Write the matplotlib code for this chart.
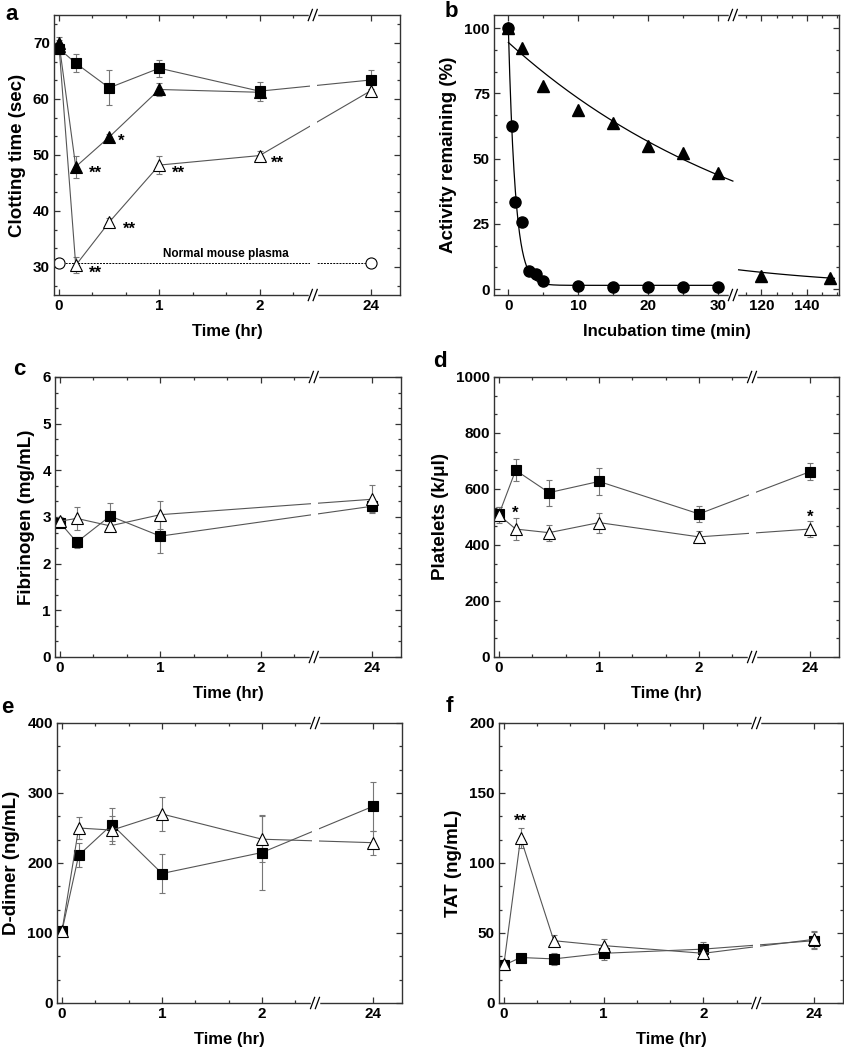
import numpy as np
import matplotlib
matplotlib.use("Agg")
import matplotlib.pyplot as plt
from matplotlib.ticker import FixedLocator

plt.rcParams["font.family"] = ["Liberation Sans", "DejaVu Sans"]
plt.rcParams["font.weight"] = "bold"
plt.rcParams["axes.labelweight"] = "bold"

# ---- data -------------------------------------------------------------
hours = [0, 1 / 6, 0.5, 1, 2, 24]

# a: clotting time (sec)
a_sq = [69.0, 66.4, 62.0, 65.5, 61.4, 63.4]
a_sq_err = [1.0, 1.6, 3.1, 1.5, 1.7, 1.7]
a_ftri_t = [0, 1 / 6, 0.5, 1, 2]
a_ftri = [70.0, 47.9, 53.2, 61.7, 61.2]
a_ftri_err = [1.0, 2.0, 0.6, 1.2, 1.0]
a_otri = [69.5, 30.3, 38.0, 48.2, 49.9, 61.5]
a_otri_err = [1.0, 1.4, 0.8, 1.6, 0.9, 1.0]
a_norm_t = [0, 24]
a_norm = [30.7, 30.7]
a_stars = [("**", 0.30, 46.7), ("*", 0.59, 52.4), ("**", 0.64, 36.7),
           ("**", 0.30, 28.8), ("**", 1.13, 46.7), ("**", 2.11, 48.5)]

# b: activity remaining (%)
b_circ_t = [0, 0.5, 1, 2, 3, 4, 5, 10, 15, 20, 25, 30]
b_circ = [100, 62.5, 33.5, 25.8, 7.0, 6.0, 3.0, 1.2, 1.0, 0.8, 0.8, 0.8]
b_tri_t = [0, 2, 5, 10, 15, 20, 25, 30, 120, 150]
b_tri = [100, 92.5, 78.0, 68.5, 63.5, 55.0, 52.3, 44.5, 5.0, 4.5]
# fitted decay curves (amplitude, rate, offset)
b_fit_circ = (98.5, 1.0, 1.5)
b_fit_tri = (94.5, 0.0257, 0.0)
b_fit_tri_tail = (34.0, 0.0138, 0.0)

# c: fibrinogen (mg/mL)
c_t = [0, 1 / 6, 0.5, 1, 24]
c_sq = [2.88, 2.46, 3.02, 2.59, 3.23]
c_sq_err = [0.08, 0.12, 0.27, 0.37, 0.12]
c_otri = [2.91, 2.97, 2.81, 3.05, 3.38]
c_otri_err = [0.08, 0.24, 0.12, 0.30, 0.30]

# d: platelets (k/ul)
d_sq = [510, 667, 587, 627, 511, 662]
d_sq_err = [25, 39, 46, 47, 28, 30]
d_otri = [507, 457, 444, 480, 429, 457]
d_otri_err = [30, 40, 28, 36, 22, 30]
d_stars = [("*", 1 / 6, 512), ("*", 24, 500)]

# e: D-dimer (ng/mL)
e_sq = [103, 211, 255, 185, 215, 281]
e_sq_err = [6, 17, 24, 28, 53, 35]
e_otri = [103, 250, 247, 270, 234, 229]
e_otri_err = [6, 16, 20, 24, 33, 17]

# f: TAT (ng/mL)
f_sq = [27, 32.5, 31.5, 35.5, 38.5, 44.5]
f_sq_err = [2, 2, 4.5, 4.5, 5, 6]
f_otri = [28, 118, 44.5, 41, 35.5, 45.5]
f_otri_err = [3, 7, 4, 4.5, 3, 6]
f_stars = [("**", 1 / 6, 130)]

hour_ticks = [0, 1, 2, 24]
hour_minor = [1 / 3, 2 / 3, 4 / 3, 5 / 3, 7 / 3]
min_ticks = [0, 10, 20, 30, 120, 140]
min_minor = [5, 15, 25, 113.33, 126.67, 133.33, 146.67, 153.33]


# ---- broken time scales -------------------------------------------------
def hr_fwd(x):
    return np.interp(x, [-10, 2.53, 23.42, 100], [-10, 2.53, 2.531, 79.111])


def hr_inv(u):
    return np.interp(u, [-10, 2.53, 2.531, 79.111], [-10, 2.53, 23.42, 100])


def min_fwd(x):
    return np.interp(x, [-100, 32.1, 107.5, 400], [-100, 32.1, 32.11, 127.5])


def min_inv(u):
    return np.interp(u, [-100, 32.1, 32.11, 127.5], [-100, 32.1, 107.5, 400])


W, H = 845, 1050
fig = plt.figure(figsize=(W / 100, H / 100), dpi=100)


def add_ax(l, r, t, b):
    return fig.add_axes([l / W, 1 - b / H, (r - l) / W, (b - t) / H])


def style(ax, ylim, yticks, ylabel, xlabel, letter, lpos):
    ax.set_ylim(*ylim)
    ax.set_yticks(yticks)
    step = yticks[1] - yticks[0]
    ax.yaxis.set_minor_locator(FixedLocator(
        np.arange(yticks[0] - step, yticks[-1] + step, step / 3)))
    ax.tick_params(which="both", direction="in", top=True, right=True,
                   labelsize=11, pad=3, width=0.9, color="#333333")
    ax.tick_params(which="major", length=4)
    ax.tick_params(which="minor", length=2.5)
    for s in ax.spines.values():
        s.set_linewidth(1.0)
        s.set_color("#333333")
    ax.set_ylabel(ylabel, fontsize=13.5, labelpad=5)
    ax.set_xlabel(xlabel, fontsize=12, labelpad=8)
    fig.text(lpos[0] / W, 1 - lpos[1] / H, letter, fontsize=16,
             fontweight="bold", ha="left", va="baseline")


def break_marks(ax, xb, gap=None):
    xf = ax.transAxes.inverted().transform(
        ax.transData.transform((xb, ax.get_ylim()[0])))[0]
    for yf in (0, 1):
        ax.plot([xf - 0.009, xf + 0.009], [yf, yf], color="white", lw=2.5,
                transform=ax.transAxes, clip_on=False, zorder=5)
        for off in (-0.007, 0.007):
            ax.plot([xf + off - 0.006, xf + off + 0.006], [yf - 0.02, yf + 0.02],
                    color="black", lw=0.9, transform=ax.transAxes,
                    clip_on=False, zorder=6)
    if gap is not None:
        ax.axvspan(gap[0], gap[1], color="white", lw=0, zorder=2.3)


def time_ax(ax):
    ax.set_xscale("function", functions=(hr_fwd, hr_inv))
    ax.set_xlim(hr_inv(-0.05), hr_inv(3.40))
    ax.set_xticks(hour_ticks)
    ax.set_xticklabels([str(h) for h in hour_ticks])
    ax.xaxis.set_minor_locator(FixedLocator(hour_minor))


LINE = "#555555"
ERR = "#777777"


def series(ax, x, y, err, marker, filled, ms):
    ax.errorbar(x, y, yerr=err, fmt="-" + marker, color=LINE, lw=0.8,
                ms=ms, mfc="black" if filled else "white", mec="black",
                mew=0.8, ecolor=ERR, elinewidth=0.8, capsize=2.5,
                capthick=0.8)


def stars(ax, items, ha="left"):
    for s, x, y in items:
        ax.text(x, y, s, fontsize=12, ha=ha, va="center")


gap = (hr_inv(2.50), hr_inv(2.57))

# ---- a ----
ax = add_ax(54, 400, 15, 295)
time_ax(ax)
ax.plot(a_norm_t, a_norm, ls=(0, (2, 1.2)), color="black", lw=0.7)
ax.plot(a_norm_t, a_norm, "o", ms=8, mfc="white", mec="black", mew=0.8)
ax.text(1.66, 32.3, "Normal mouse plasma", fontsize=8.5, ha="center", va="center")
series(ax, hours, a_otri, a_otri_err, "^", False, 9)
series(ax, a_ftri_t, a_ftri, a_ftri_err, "^", True, 9)
series(ax, hours, a_sq, a_sq_err, "s", True, 7.5)
stars(ax, a_stars)
style(ax, (25, 75), [30, 40, 50, 60, 70], "Clotting time (sec)", "Time (hr)", "a", (5, 20))
break_marks(ax, 2.53, gap)

# ---- b ----
ax = add_ax(494, 839, 15, 295)
ax.set_xscale("function", functions=(min_fwd, min_inv))
ax.set_xlim(-2.05, 154)
ax.set_xticks(min_ticks)
ax.set_xticklabels([str(m) for m in min_ticks])
ax.xaxis.set_minor_locator(FixedLocator(min_minor))
tc = np.linspace(0, 30, 300)
A, k, c = b_fit_circ
ax.plot(tc, A * np.exp(-k * tc) + c, color="black", lw=0.9)
tt = np.linspace(0, 32.1, 200)
A, k, c = b_fit_tri
ax.plot(tt, A * np.exp(-k * tt) + c, color="black", lw=0.9)
tt2 = np.linspace(110, 152, 100)
A, k, c = b_fit_tri_tail
ax.plot(tt2, A * np.exp(-k * tt2) + c, color="black", lw=0.9)
ax.plot(b_tri_t, b_tri, "^", ms=9, color="black")
ax.plot(b_circ_t, b_circ, "o", ms=8, color="black")
style(ax, (-2.2, 105), [0, 25, 50, 75, 100], "Activity remaining (%)",
      "Incubation time (min)", "b", (445, 17))
break_marks(ax, 32.1)

# ---- c ----
ax = add_ax(55, 401, 377, 657)
time_ax(ax)
series(ax, c_t, c_sq, c_sq_err, "s", True, 7.5)
series(ax, c_t, c_otri, c_otri_err, "^", False, 9)
style(ax, (0, 6), [0, 1, 2, 3, 4, 5, 6], "Fibrinogen (mg/mL)", "Time (hr)", "c", (13, 375))
break_marks(ax, 2.53, gap)

# ---- d ----
ax = add_ax(494, 839, 377, 657)
time_ax(ax)
series(ax, hours, d_sq, d_sq_err, "s", True, 7.5)
series(ax, hours, d_otri, d_otri_err, "^", False, 9)
stars(ax, d_stars, ha="center")
style(ax, (0, 1000), [0, 200, 400, 600, 800, 1000], "Platelets (k/\u03bcl)",
      "Time (hr)", "d", (433, 367))
break_marks(ax, 2.53, gap)

# ---- e ----
ax = add_ax(57, 402, 723, 1003)
time_ax(ax)
series(ax, hours, e_sq, e_sq_err, "s", True, 7.5)
series(ax, hours, e_otri, e_otri_err, "^", False, 9)
style(ax, (0, 400), [0, 100, 200, 300, 400], "D-dimer (ng/mL)", "Time (hr)", "e", (1, 713))
break_marks(ax, 2.53, gap)

# ---- f ----
ax = add_ax(499, 843, 723, 1003)
time_ax(ax)
series(ax, hours, f_sq, f_sq_err, "s", True, 7.5)
series(ax, hours, f_otri, f_otri_err, "^", False, 9)
stars(ax, f_stars, ha="center")
style(ax, (0, 200), [0, 50, 100, 150, 200], "TAT (ng/mL)", "Time (hr)", "f", (446, 712))
break_marks(ax, 2.53, gap)

fig.savefig("out.png", dpi=100)
